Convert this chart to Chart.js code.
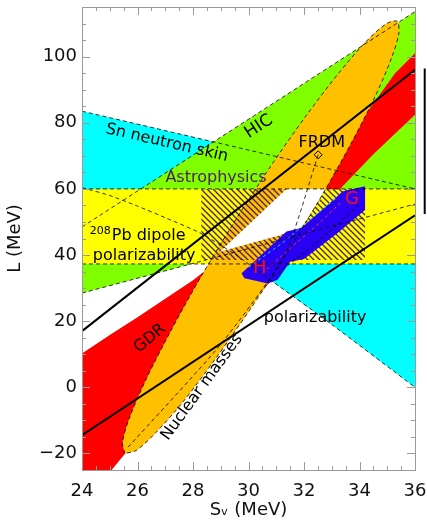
<!DOCTYPE html>
<html>
<head>
<meta charset="utf-8">
<script src="https://cdn.jsdelivr.net/npm/chart.js@4.4.1/dist/chart.umd.min.js"></script>
<style>
  html, body { margin: 0; padding: 0; background: #fff; }
  #wrap { width: 427px; height: 522px; }
</style>
</head>
<body>
<div id="wrap"><canvas id="chart" width="427" height="522"></canvas></div>
<script>
// axis ticks
const xTicks = [24, 26, 28, 30, 32, 34, 36];
const yTicks = [-20, 0, 20, 40, 60, 80, 100];

// constraint bands, [Sv, L] pairs
const snUpper = [[24, 83.5], [36, 60]];
const snLower = [[24, 60.4], [25, 58], [26, 54.8], [27, 51.3], [28.25, 46.7], [29.5, 40.3], [30.9, 31.8], [33, 19], [36, 0]];
const hicUpper = [[24, 48.5], [36, 113.6]];
const hicLower = [[24, 28.5], [36, 55.4]];
const gdr = [[24, 10.2], [25, 15.8], [26, 21.2], [27, 26.8], [28, 32.4], [28.7, 37], [30, 45.5], [31, 53], [32, 61.3], [33, 70.3],
             [34, 80], [35.28, 95], [36, 101], [36, 82.4], [34.5, 70.5], [33.3, 60], [31.1, 35], [28, 5], [24.58, -30], [24, -30]];
const pbBand = [[24, 60], [36, 60], [36, 37.3], [24, 37.3]];
const massEllipse = [[25.54, -20.0], [25.46, -16.5], [25.73, -8.8], [26.32, 2.6], [27.19, 16.9], [28.27, 33.2], [29.51, 50.3],
                     [30.81, 67.0], [32.09, 82.3], [33.25, 95.0], [34.22, 104.4], [34.94, 109.8], [35.35, 110.7], [35.42, 107.2],
                     [35.15, 99.5], [34.57, 88.1], [33.70, 73.8], [32.61, 57.5], [31.37, 40.4], [30.07, 23.7], [28.79, 8.4],
                     [27.64, -4.4], [26.66, -13.7], [25.95, -19.1], [25.54, -20.0]];
const astro = [[28.3, 60], [34.2, 60], [34.2, 38.5], [28.3, 38.5]];
const allowed = [[28.97, 41], [31.37, 60], [32.76, 60], [32.61, 57.5], [32.3, 53.3], [31.92, 48.4], [31.13, 46]];
const nsRegion = [[29.75, 34.5], [31.37, 47.1], [31.9, 48.2], [32.9, 55.5], [33.4, 59.3], [34.2, 60.8], [34.2, 53.6], [33.2, 46.6],
                  [32.0, 38.8], [31.5, 38.0], [31.05, 32.5], [30.7, 31.4], [29.85, 33.0]];
const hContour = [[30.0, 36.3], [31.2, 43.5], [32.4, 52], [33.2, 57.5]];
const gContour = [[30.5, 34.5], [31.5, 42], [32.6, 50], [33.4, 56.5]];
const nsContour = [[30.9, 33.5], [32.2, 42], [33.3, 50], [34.0, 55.5]];
const massLine = [[25.66, -18.1], [28.97, 12.7], [31.3, 40], [32.51, 70.3]];
const frdm = [[32.51, 70.3]];
const polUpper = [[24, 17], [36, 96]];
const polLower = [[24, -14.5], [36, 52]];
const errBar = [[36.35, 52.4], [36.35, 96.4]];

const notes = [
  { text: 'Sn neutron skin', x: 27.06, y: 73.9, rot: 13 },
  { text: 'HIC', x: 30.37, y: 78.8, rot: -33, size: 17 },
  { text: 'Astrophysics', x: 28.83, y: 63.3, color: '#4e1d5e' },
  { text: 'Pb dipole', sup: '208', x: 24.28, y: 45.8, align: 'left' },
  { text: 'polarizability', x: 26.24, y: 39.7 },
  { text: 'GDR', x: 26.45, y: 14.8, rot: -40 },
  { text: 'Nuclear masses', x: 28.32, y: 0, rot: -54 },
  { text: 'polarizability', x: 32.4, y: 20.9 },
  { text: 'FRDM', x: 32.64, y: 73.9 },
  { text: 'H', x: 30.41, y: 36.1, color: '#ff1010', size: 18 },
  { text: 'G', x: 33.73, y: 56.7, color: '#ff1010', size: 18 }
];

const FONT = "'DejaVu Sans', sans-serif";
const P = a => a.map(([x, y]) => ({ x, y }));

function hatch() {
  const c = document.createElement('canvas');
  c.width = 6; c.height = 6;
  const g = c.getContext('2d');
  g.strokeStyle = '#4e1d5e';
  g.lineWidth = 1.3;
  g.beginPath();
  g.moveTo(-1, -1); g.lineTo(7, 7);
  g.moveTo(-1, 5); g.lineTo(1, 7);
  g.moveTo(5, -1); g.lineTo(7, 1);
  g.stroke();
  return g.createPattern(c, 'repeat');
}

let layer = 0;
function area(data, color, tension = 0) {
  return { data: P(data), fill: 'shape', backgroundColor: color, borderColor: 'transparent', borderWidth: 0,
           pointRadius: 0, tension, order: 100 - layer++ };
}
function line(data, color, width, dash = [], tension = 0, extra = {}) {
  return Object.assign({ data: P(data), fill: false, borderColor: color, borderWidth: width, borderDash: dash,
           pointRadius: 0, tension, order: 100 - layer++ }, extra);
}

const DASH = [4, 3];
const datasets = [
  area(snUpper.concat(snLower.slice().reverse()), '#00ffff'),
  area(hicUpper.concat(hicLower.slice().reverse()), '#80ff00'),
  area(gdr, '#ff0000'),
  area(pbBand, '#ffff00'),
  area(massEllipse, '#ffc000', 0.3),
  area(astro, hatch()),
  area(allowed, '#ffffff'),
  area(nsRegion, '#2a00f5'),
  line(hContour, '#00e8ff', 1, [3, 3]),
  line(gContour, '#ff3030', 1, [3, 3]),
  line(nsContour, '#000', 1, [3, 3]),
  line(massEllipse, '#000', 0.8, DASH, 0.3),
  line(massLine, '#000', 0.8, DASH, 0.2),
  line(snUpper, '#000', 0.8, DASH),
  line(snLower, '#000', 0.8, DASH, 0.2),
  line(hicUpper, '#000', 0.8, DASH),
  line(hicLower, '#000', 0.8, DASH),
  line([pbBand[0], pbBand[1]], '#000', 0.8, DASH),
  line([pbBand[2], pbBand[3]], '#000', 0.8, DASH),
  line(polUpper, '#000', 2),
  line(polLower, '#000', 2),
  line(frdm, '#000', 1, [], 0, { pointRadius: 4, pointStyle: 'rectRot', pointBorderColor: '#000', pointBackgroundColor: 'transparent', pointBorderWidth: 1, showLine: false }),
  line(errBar, '#000', 2, [], 0, { clip: false })
];

const frame = {
  id: 'frame',
  afterDraw(chart) {
    const { ctx, chartArea: { left, right, top, bottom }, scales: { x, y } } = chart;
    ctx.save();
    ctx.strokeStyle = '#9a9a9a';
    ctx.lineWidth = 1;
    ctx.beginPath();
    for (let v = 24; v <= 36.001; v += 0.5) {
      const px = Math.round(x.getPixelForValue(v)) + 0.5;
      const len = Math.abs(v % 2) < 1e-6 ? 8 : 4;
      ctx.moveTo(px, bottom); ctx.lineTo(px, bottom - len);
      ctx.moveTo(px, top); ctx.lineTo(px, top + len);
    }
    for (let v = -25; v <= 115; v += 5) {
      const py = Math.round(y.getPixelForValue(v)) + 0.5;
      const len = v % 20 === 0 ? 8 : 4;
      ctx.moveTo(left, py); ctx.lineTo(left + len, py);
      ctx.moveTo(right, py); ctx.lineTo(right - len, py);
    }
    ctx.stroke();
    ctx.strokeRect(Math.round(left) + 0.5, Math.round(top) + 0.5, Math.round(right - left), Math.round(bottom - top));
    ctx.restore();
  }
};

const labels = {
  id: 'labels',
  afterDatasetsDraw(chart) {
    const { ctx, scales: { x, y } } = chart;
    notes.forEach(n => {
      ctx.save();
      ctx.translate(x.getPixelForValue(n.x), y.getPixelForValue(n.y));
      ctx.rotate((n.rot || 0) * Math.PI / 180);
      ctx.fillStyle = n.color || '#000';
      ctx.textBaseline = 'middle';
      ctx.textAlign = n.align || 'center';
      let dx = 0;
      if (n.sup) {
        ctx.font = '11px ' + FONT;
        ctx.fillText(n.sup, 0, -5);
        dx = ctx.measureText(n.sup).width + 1;
      }
      ctx.font = (n.size || 16) + 'px ' + FONT;
      ctx.fillText(n.text, dx, 0);
      ctx.restore();
    });
  }
};

new Chart(document.getElementById('chart'), {
  type: 'line',
  data: { datasets },
  options: {
    responsive: false,
    animation: false,
    layout: { padding: { top: 7, right: 12, left: 0, bottom: 0 } },
    plugins: { legend: { display: false }, tooltip: { enabled: false } },
    scales: {
      x: {
        type: 'linear', min: 24, max: 36,
        afterBuildTicks: s => { s.ticks = xTicks.map(v => ({ value: v })); },
        afterFit: s => { s.height = 52; s.paddingLeft = 0; s.paddingRight = 0; },
        grid: { display: false, drawTicks: false },
        border: { display: false },
        ticks: { color: '#111', font: { family: FONT, size: 18 }, padding: 11, maxRotation: 0 },
        title: { display: true, text: 'Sᵥ (MeV)', color: '#111', font: { family: FONT, size: 18 }, padding: { top: 0, bottom: 1 } }
      },
      y: {
        type: 'linear', min: -25, max: 115,
        afterBuildTicks: s => { s.ticks = yTicks.map(v => ({ value: v })); },
        afterFit: s => { s.width = 82; s.paddingTop = 0; s.paddingBottom = 0; },
        grid: { display: false, drawTicks: false },
        border: { display: false },
        ticks: { color: '#111', font: { family: FONT, size: 18 }, padding: 5, callback: v => String(v).replace('-', '\u2212') },
        title: { display: true, text: 'L (MeV)', color: '#111', font: { family: FONT, size: 18 }, padding: { top: 5, bottom: 0 } }
      }
    }
  },
  plugins: [frame, labels]
});
</script>
</body>
</html>
